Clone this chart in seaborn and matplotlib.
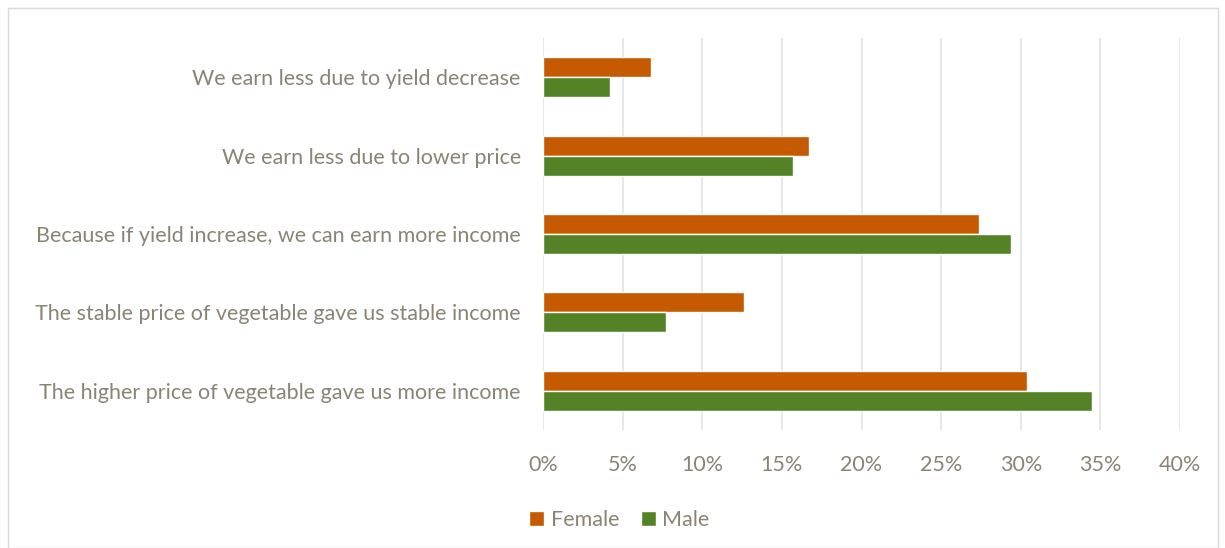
import pandas as pd
import matplotlib.pyplot as plt
import seaborn as sns
from matplotlib.patches import Rectangle
from matplotlib.ticker import PercentFormatter

reasons = [
    "We earn less due to yield decrease",
    "We earn less due to lower price",
    "Because if yield increase, we can earn more income",
    "The stable price of vegetable gave us stable income",
    "The higher price of vegetable gave us more income",
]
female = [6.8, 16.7, 27.4, 12.6, 30.4]
male = [4.2, 15.7, 29.4, 7.7, 34.5]
xticks = [0, 5, 10, 15, 20, 25, 30, 35, 40]

df = pd.DataFrame({
    "reason": reasons * 2,
    "gender": ["Female"] * len(reasons) + ["Male"] * len(reasons),
    "pct": female + male,
})

text_color = "#8B8475"
sns.set_style("white")
plt.rcParams["font.family"] = ["Lato", "DejaVu Sans"]

fig = plt.figure(figsize=(12.25, 5.48), dpi=100)
ax = fig.add_axes([543 / 1225, 1 - 430 / 548, (1180 - 543) / 1225, (430 - 38) / 548])

sns.barplot(data=df, y="reason", x="pct", hue="gender", orient="h",
            palette={"Female": "#C55A00", "Male": "#548226"},
            width=0.51, gap=0, saturation=1, ax=ax, legend=True)

ax.set_xlim(0, 40)
ax.set_xticks(xticks)
ax.xaxis.set_major_formatter(PercentFormatter(decimals=0))
ax.grid(axis="x", color="#E3E3E3", linewidth=1.2)
ax.set_axisbelow(True)
for s in ax.spines.values():
    s.set_visible(False)
ax.set_xlabel("")
ax.set_ylabel("")
ax.tick_params(axis="x", colors=text_color, labelsize=15.5, length=0, pad=18)
ax.tick_params(axis="y", colors=text_color, labelsize=15.5, length=0, pad=16)

ax.legend(loc="upper center", bbox_to_anchor=(0.12, -0.155), ncol=2, frameon=False,
          fontsize=15.5, labelcolor=text_color, handlelength=0.7, handleheight=0.7,
          handletextpad=0.3, columnspacing=1.0)

fig.patches.append(Rectangle((8 / 1225, 0), 1210 / 1225, 540 / 548, transform=fig.transFigure,
                             fill=False, edgecolor="#D9D9D9", linewidth=1))

fig.savefig("out.png", dpi=100)
